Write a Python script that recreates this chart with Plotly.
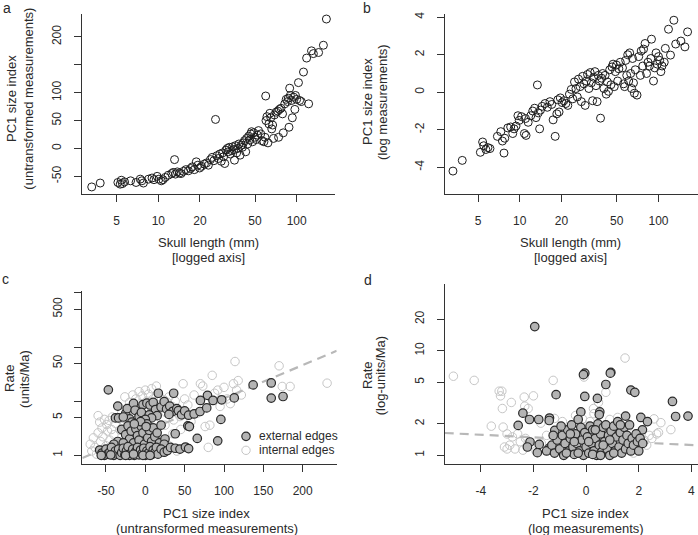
import plotly.graph_objects as go

# ---------------- data ----------------
# Panel a: skull length (mm) vs PC1 size index (untransformed)
skull_a = [3.3,3.8,5.1,5.3,5.4,5.5,5.7,6.3,6.9,7.4,7.6,7.8,8.5,9.0,9.3,9.8,10.1,10.5,10.8,11.2,11.8,12.5,12.8,13.1,13.3,13.7,14.2,14.6,15.2,15.8,16.5,17.1,17.6,18.2,18.8,19.3,19.9,20.5,21.5,22.3,23.0,23.8,24.5,25.2,25.9,26.5,27.2,27.8,28.5,29.1,29.6,30.2,30.8,31.5,32.0,32.6,33.2,33.9,34.5,35.2,35.5,36.1,36.8,37.5,38.2,39.0,39.8,40.5,41.2,42.0,42.8,43.5,44.2,45.0,45.8,46.5,47.2,48.0,48.9,49.8,51,52,53,55,56,58,59,59.7,60,61,62,63,64,65,66,67,68,69,71,73,74,75,77,79,80,82,84,86,87,88,89,90,92,93,95,97,98,100,103,105,108,112,118,122,128,132,144,156,164]
pc1_raw = [-69,-62,-61,-64,-57,-63,-60,-58,-61,-55,-58,-62,-55,-53,-56,-50,-55,-58,-56,-52,-48,-45,-43,-20,-46,-42,-44,-45,-41,-38,-40,-36,-33,-38,-24,-30,-35,-32,-28,-26,-30,-20,-16,-22,52,-13,-18,-10,-23,-8,-15,-27,-3,0,-6,2,-10,-4,3,-2,-21,5,-8,0,8,-12,6,2,10,14,-6,18,8,22,15,26,30,12,28,20,16,24,32,26,14,12,20,94,50,57,10,44,63,55,35,42,18,60,65,67,20,70,72,62,28,80,88,84,90,38,108,95,86,55,92,70,95,88,118,86,84,137,162,80,175,170,172,185,232]

# Panel b: skull length (mm) vs PC1 size index (log measurements)
skull_b = [3.3,3.85,5.2,5.4,5.5,5.7,5.9,6.1,6.9,7.3,7.5,7.7,7.8,8.2,8.6,8.9,9.1,9.4,9.7,9.9,10.3,10.8,11.1,11.0,11.5,12.0,12.4,12.8,13.1,13.4,13.6,13.9,14.1,14.5,15.2,15.8,16.5,17.0,17.4,18.0,18.5,18.8,19.2,19.6,20.2,20.8,21.5,22.2,22.8,23.5,24.1,24.8,25.4,26.0,26.5,27.2,27.8,28.4,29.0,29.6,30.2,30.8,31.5,32.2,32.8,33.5,34.1,34.8,35.4,36.1,36.8,37.5,38.2,38.9,39.6,40.4,41.2,42.0,42.8,43.6,44.5,45.4,46.2,47.1,48.0,48.9,49.8,50.8,51.8,53,55,56,57,58,59,60,61,62,63,64,65,66,67,68,70,72,74,75,77,78,80,82,84,86,88,89,92,94,96,98,100,102,104,106,110,112,118,122,129,133,145,155,162]
pc1_log = [-4.2,-3.63,-3.2,-2.65,-2.85,-3.05,-2.95,-3.0,-2.35,-2.1,-2.6,-3.24,-2.45,-1.9,-1.85,-2.2,-1.95,-1.8,-1.25,-1.5,-1.3,-2.2,-2.3,-1.4,-1.6,-1.25,-1.0,-0.85,-1.35,0.39,-1.1,-1.95,-0.95,-0.75,-0.6,-0.8,-0.5,-0.65,-1.47,-2.35,-1.15,-0.4,-1.05,-0.3,-0.55,-0.45,-0.6,-0.7,-0.1,0.15,-0.35,0.55,0.2,-0.25,0.7,0.3,-0.5,0.85,0.45,-0.7,0.6,0.95,0.2,1.05,0.5,-0.45,0.8,1.1,0.35,-0.5,0.9,0.6,-1.38,0.75,1.0,0.2,0.9,-0.1,0.55,0.05,1.2,0.4,1.35,1.5,0.3,1.1,1.45,0.6,1.25,1.6,1.3,0.45,0.3,1.7,0.9,2.0,0.6,2.1,1.0,0.2,1.8,0.5,-0.05,1.2,-0.15,1.9,0.9,2.2,1.4,2.3,2.6,1.0,1.6,1.4,1.8,2.83,0.6,1.3,2.1,1.5,1.9,1.7,1.1,1.4,1.6,2.34,3.36,1.98,3.84,2.57,2.73,2.42,3.22]

# Panel c: PC1 (untransformed) vs rate (units/Ma)
ext_c_x = [-47,16.5,36,79,86,97,70,113,137,160,160,175,
           -35,-38,-34,-25,-23,-15,-13,-8,-3,2,6,10,13,20,24,27,31,35,40,42,46,50,55,62,69.5,78,96,-20,-17,-5,5,15,30,8,-28,0,
           -30,-25,-22,-20,-18,-15,-12,-10,-8,-5,-3,-1,2,3,5,8,10,12,15,18,20,-35,-40,-28,25,54,56,66,92,38,-6,1,-14,24,
           -58,-55,-52,-50,-48,-45,-43,-40,-38,-36,-34,-32,-30,-28,-26,-24,-22,-20,-18,-16,-14,-12,-10,-8,-6,-4,-2,0,2,4,6,8,10,12,14,16,20,24,28,32,38,44,51,55,-56,-44,-25,-3,6,-15]
ext_c_y = [16.2,14,14,12.8,10.3,10.6,10.3,11.5,20,21.7,11.4,12.2,
           8.1,4.9,4.9,5.9,7.3,9.1,6.8,5.2,8.6,9.2,8.5,9.5,7.0,7.8,9.8,7.2,8.1,6.5,7.3,6.7,5.6,6.6,5.5,5.8,6.45,7.5,4.6,4.7,4.1,6.2,5.6,5.4,5.7,4.9,5.1,4.6,
           3.0,2.4,3.5,2.0,2.8,1.7,3.1,2.3,1.9,3.4,2.6,1.6,3.8,2.1,2.9,1.8,3.2,2.2,2.6,1.7,3.6,1.8,1.6,1.7,2.0,3.5,3.4,2.05,1.85,2.5,4.2,3.4,3.8,1.6,
           1.25,1.1,1.0,1.3,1.05,1.15,1.4,1.0,1.2,1.05,1.3,1.0,1.12,1.35,1.02,1.2,1.45,1.0,1.1,1.3,1.0,1.18,1.4,1.02,1.25,1.08,1.35,1.0,1.2,1.1,1.45,1.03,1.25,1.12,1.4,1.05,1.3,1.14,1.22,1.4,1.35,1.3,1.42,1.33,1.0,1.02,1.0,1.0,1.0,1.05]
int_c_x = [-70,-68,-66,-64,-62,-60,-60,-58,-57,-55,-54,-52,-50,-49,-48,-46,-45,-43,-42,-40,-38,-36,-34,-32,-30,-28,-26,-24,-22,-20,-18,-16,-14,-12,-10,-8,-6,-4,-2,0,2,4,6,8,10,12,14,16,18,20,22,24,26,28,30,32,34,36,38,42,44,48,50,54,58,62,66,70,73,76,80,82,85,88,92,95,100,104,108,112,114,116,118,122,170,174,184,231,-5,5,15,25,-15,-25,-35,-45,0,10,20,35,45,-20,-10,30,40]
int_c_y = [1.6,1.2,2.1,1.4,1.05,5.4,2.6,4.1,1.8,3.2,2.2,4.6,1.5,3.7,2.8,4.4,1.9,3.0,5.1,2.4,3.9,1.7,4.8,2.9,6.0,3.4,12,7.0,4.0,9.5,5.8,13,7.8,11,6.5,15,9.0,12.5,7.2,16,10,13.5,8.2,17,11,6.8,19,9.8,12,7.5,8.8,10.5,6.2,9.5,12,5.8,8.0,4.5,10,7.0,5.2,21,11,8.5,4.2,13,6.0,21,19,3.4,1.4,3.6,30,14,16,8.0,18,11,9.0,21,54,16,24,13,45,18.7,18.7,21.5,2.5,3.0,2.2,3.6,2.0,1.3,1.1,1.0,1.4,1.6,1.8,2.5,3.0,1.1,1.2,1.5,1.2]
trend_c = [0.44, 0.00613]   # log10(rate) = a + b * PC1

# Panel d: PC1 (log) vs rate (log-units/Ma)
ext_d_x = [-1.95,-0.05,-0.1,0.94,0.92,0.75,1.7,1.85,3.28,3.4,3.87,-1.14,-0.05,0.43,0.52,0.5,-0.2,1.5,2.08,2.14,2.33,-1.39,-1.4,-1.8,-2.4,-2.58,-2.15,-2.13,-2.23,-1.85,-1.78,-1.4,-1.19,
           -1.5,-1.3,-1.2,-1.1,-1.0,-0.9,-0.85,-0.8,-0.7,-0.65,-0.6,-0.55,-0.5,-0.45,-0.4,-0.35,-0.3,-0.25,-0.2,-0.15,-0.1,-0.05,0.0,0.05,0.1,0.15,0.2,0.25,0.3,0.35,0.4,0.45,0.5,0.55,0.6,0.65,0.7,0.75,0.8,0.85,0.9,0.95,1.0,1.05,1.1,1.15,1.2,1.25,1.3,1.35,1.4,1.45,1.5,1.55,1.6,1.65,1.7,1.75,1.8,1.9,1.95,2.0,2.05,2.15,-0.75,-0.3,0.25,0.55,1.05,-0.6,0.1,0.9,-0.95,-1.25,0.35,1.3,-0.45,0.65]
ext_d_y = [17,6.1,5.9,6.2,6.1,4.75,4.2,4.0,3.27,2.35,2.37,3.8,3.65,3.5,2.6,2.45,2.6,2.37,2.3,1.75,2.1,2.27,2.15,2.2,2.53,1.93,2.2,1.34,1.2,1.06,1.27,1.17,1.73,
           1.1,1.25,1.05,1.4,1.15,1.55,1.0,1.3,1.75,1.1,1.45,1.95,1.2,1.02,1.6,1.3,2.2,1.1,1.85,1.4,1.0,1.65,1.2,1.5,1.05,1.9,1.3,1.75,1.1,1.45,1.0,2.0,1.25,1.6,1.08,1.85,1.35,1.95,1.15,1.55,1.0,1.7,1.3,1.9,1.1,1.5,2.1,1.2,1.65,1.05,1.4,1.85,1.15,1.55,1.3,1.95,1.1,1.45,1.25,1.6,1.35,1.1,1.45,1.3,1.05,1.05,1.02,1.0,1.05,1.6,1.35,1.4,1.9,1.55,1.75,1.95,1.35,1.25]
int_d_x = [-5.04,-4.25,-3.3,-3.2,-3.25,-3.18,-2.84,-3.6,-3.15,-2.35,-2.0,-2.33,-2.2,-1.25,1.48,-0.08,0.75,0.47,0.28,-1.72,-3.0,-3.1,-3.0,-2.9,-2.8,-2.7,-2.5,-2.4,-2.6,-2.3,2.58,2.84,3.22,2.68,2.75,2.5,2.4,-0.14,0.05,0.15,-0.9,-0.6,1.5,1.6,-1.5,-1.7,-1.0,0.5,1.0,2.2,2.3,1.2,-0.4,0.9,-1.9,-0.2,0.6,1.8,-1.2,0.3]
int_d_y = [5.7,5.2,4.1,4.1,3.7,2.8,3.2,1.9,1.86,3.6,3.7,2.95,2.8,5.2,8.5,5.6,4.0,3.2,2.8,2.03,1.6,1.2,1.15,1.25,1.5,1.15,1.35,1.12,1.6,1.45,2.23,2.05,1.76,1.6,1.65,1.45,1.55,2.23,1.9,2.1,2.1,1.85,2.1,1.85,1.55,1.3,1.3,1.4,1.5,1.4,1.25,2.3,2.4,2.2,1.1,1.15,1.1,1.05,2.25,2.5]
trend_d = [0.147, -0.01228]  # log10(rate) = a + b * PC1

# tick labels
ticks_len = [5, 10, 20, 50, 100]
ticks_raw = [-50, 0, 50, 100, 150, 200]
ticks_raw_txt = ["-50", "0", "50", "100", "", "200"]
ticks_log = [-4, -2, 0, 2, 4]
ticks_c_x = [-50, 0, 50, 100, 150, 200]
ticks_c_y = [1, 5, 10, 50, 100, 500, 1000]
ticks_c_y_txt = ["1", "5", "", "50", "", "500", ""]
ticks_d_y = [1, 2, 5, 10, 20]

# ---------------- styling ----------------
W, H = 698, 535
FONT = "Liberation Sans, Arial, Helvetica, sans-serif"
TXT = "#2a2a2a"
AX = "#333333"

def px(x):
    return x / W

def py(y):
    return 1 - y / H

fig = go.Figure()

open_black = dict(symbol="circle-open", size=8, color="#1e1e1e", line=dict(width=1))
open_gray = dict(symbol="circle-open", size=8.5, color="#c6c6c6", line=dict(width=1))
filled = dict(symbol="circle", size=8.5, color="#b4b4b4", line=dict(width=1.2, color="#2a2a2a"))

fig.add_trace(go.Scatter(x=skull_a, y=pc1_raw, mode="markers", marker=open_black, xaxis="x", yaxis="y"))
fig.add_trace(go.Scatter(x=skull_b, y=pc1_log, mode="markers", marker=open_black, xaxis="x2", yaxis="y2"))

# panel c
fig.add_trace(go.Scatter(x=int_c_x, y=int_c_y, mode="markers", marker=open_gray, xaxis="x3", yaxis="y3"))
xr_c = [-80.1, 243.2]
fig.add_trace(go.Scatter(x=xr_c, y=[10 ** (trend_c[0] + trend_c[1] * v) for v in xr_c], mode="lines",
                         line=dict(color="#b8b8b8", width=2.2, dash="9px,6px"), xaxis="x3", yaxis="y3"))
fig.add_trace(go.Scatter(x=ext_c_x, y=ext_c_y, mode="markers", marker=filled, xaxis="x3", yaxis="y3"))

# panel d
fig.add_trace(go.Scatter(x=int_d_x, y=int_d_y, mode="markers", marker=open_gray, xaxis="x4", yaxis="y4"))
xr_d = [-5.37, 4.25]
fig.add_trace(go.Scatter(x=xr_d, y=[10 ** (trend_d[0] + trend_d[1] * v) for v in xr_d], mode="lines",
                         line=dict(color="#b8b8b8", width=2.2, dash="9px,6px"), xaxis="x4", yaxis="y4"))
fig.add_trace(go.Scatter(x=ext_d_x, y=ext_d_y, mode="markers", marker=filled, xaxis="x4", yaxis="y4"))

common = dict(showline=True, linecolor=AX, linewidth=1, ticks="outside", ticklen=7, tickwidth=1,
              tickcolor=AX, showgrid=False, zeroline=False, mirror=False,
              tickfont=dict(family=FONT, size=12, color=TXT))
xcommon = dict(common, ticklabelstandoff=9)
ycommon = dict(common, tickangle=-90, ticklabelstandoff=8)

fig.update_layout(
    width=W, height=H, margin=dict(l=0, r=0, t=0, b=0),
    paper_bgcolor="white", plot_bgcolor="white", showlegend=False,
    font=dict(family=FONT, size=12, color=TXT),
    xaxis=dict(xcommon, type="log", domain=[px(81.7), px(335)], range=[0.446, 2.277],
               tickvals=ticks_len, ticktext=[str(v) for v in ticks_len], anchor="y"),
    yaxis=dict(ycommon, domain=[py(192.3), py(11.7)], range=[-80.9, 241.6],
               tickvals=ticks_raw, ticktext=ticks_raw_txt, anchor="x"),
    xaxis2=dict(xcommon, type="log", domain=[px(444.7), px(697.5)], range=[0.459, 2.281],
                tickvals=ticks_len, ticktext=[str(v) for v in ticks_len], anchor="y2"),
    yaxis2=dict(ycommon, domain=[py(192.3), py(11.7)], range=[-5.4, 4.19],
                tickvals=ticks_log, ticktext=[str(v) for v in ticks_log], anchor="x2"),
    xaxis3=dict(xcommon, domain=[px(82.3), px(336.7)], range=xr_c,
                tickvals=ticks_c_x, ticktext=[str(v) for v in ticks_c_x], anchor="y3"),
    yaxis3=dict(ycommon, type="log", domain=[py(463.3), py(290)], range=[-0.153, 3.037],
                tickvals=ticks_c_y, ticktext=ticks_c_y_txt, anchor="x3"),
    xaxis4=dict(xcommon, domain=[px(444.7), px(698)], range=xr_d,
                tickvals=ticks_log, ticktext=[str(v) for v in ticks_log], anchor="y4"),
    yaxis4=dict(ycommon, type="log", domain=[py(463.3), py(283.3)], range=[-0.079, 1.635],
                tickvals=ticks_d_y, ticktext=[str(v) for v in ticks_d_y], anchor="x4"),
)

def note(text, x, y, size=13, angle=0, xanchor="center", yanchor="middle"):
    fig.add_annotation(text=text, x=px(x), y=py(y), xref="paper", yref="paper", showarrow=False,
                       textangle=angle, xanchor=xanchor, yanchor=yanchor,
                       font=dict(family=FONT, size=size, color=TXT))

# panel letters
note("a", 7, 6, size=14)
note("b", 367, 6, size=14)
note("c", 5, 278, size=14)
note("d", 368, 279, size=14)

# axis titles
note("Skull length (mm)", 208.7, 241.7)
note("[logged axis]", 208.7, 256)
note("Skull length (mm)", 570.7, 241.7)
note("[logged axis]", 570.7, 256)
note("PC1 size index", 11.7, 96.7, angle=-90)
note("(untransformed measurements)", 28.3, 96.7, angle=-90)
note("PC1 size index", 367.3, 100, angle=-90)
note("(log measurements)", 382.3, 100, angle=-90)
note("PC1 size index", 206.7, 513.3)
note("(untransformed measurements)", 206.7, 528.3)
note("PC1 size index", 585.7, 513.3)
note("(log measurements)", 585.7, 528.3)
note("Rate", 10, 378.3, angle=-90)
note("(units/Ma)", 25, 378.3, angle=-90)
note("Rate", 367.3, 375, angle=-90)
note("(log-units/Ma)", 380.7, 375, angle=-90)

# legend for panel c
r = 4.2
fig.add_shape(type="circle", xref="paper", yref="paper", x0=px(246 - r), x1=px(246 + r),
              y0=py(436 + r), y1=py(436 - r), fillcolor="#b4b4b4", line=dict(color="#2a2a2a", width=1.2))
fig.add_shape(type="circle", xref="paper", yref="paper", x0=px(246 - r), x1=px(246 + r),
              y0=py(450 + r), y1=py(450 - r), fillcolor="rgba(0,0,0,0)", line=dict(color="#c6c6c6", width=1))
note("external edges", 256.5, 436, size=12, xanchor="left")
note("internal edges", 256.5, 450, size=12, xanchor="left")

fig.write_html("out.html", config={"displayModeBar": False},
               post_script="document.body.style.margin='0';document.body.style.overflow='hidden';")
